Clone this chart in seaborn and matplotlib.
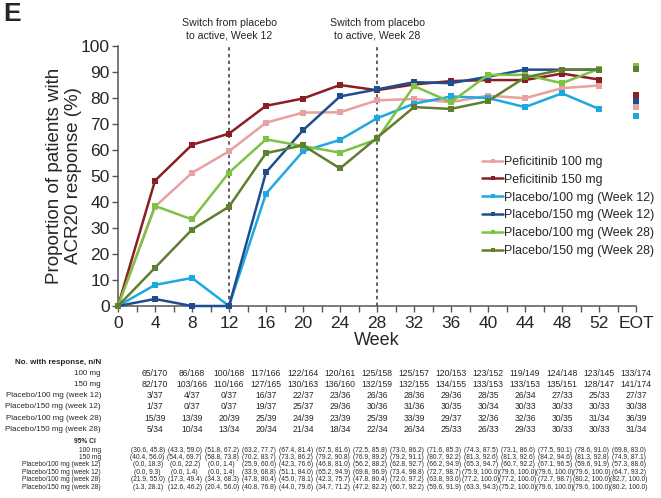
import matplotlib
matplotlib.use("Agg")
import matplotlib.pyplot as plt
import matplotlib.transforms as mtransforms
from matplotlib.lines import Line2D
import seaborn as sns
import pandas as pd

# ---------------- data ----------------
weeks = [0, 4, 8, 12, 16, 20, 24, 28, 32, 36, 40, 44, 48, 52]
eot_pos = 56
tick_labels = ["0", "4", "8", "12", "16", "20", "24", "28", "32", "36",
               "40", "44", "48", "52", "EOT"]

groups = ["Peficitinib 100 mg", "Peficitinib 150 mg",
          "Placebo/100 mg (Week 12)", "Placebo/150 mg (Week 12)",
          "Placebo/100 mg (Week 28)", "Placebo/150 mg (Week 28)"]

pef100 = [0, 38.2, 51.2, 59.5, 70.5, 74.4, 74.5, 79.1, 79.6, 78.4, 80.9, 79.9, 83.8, 84.8]
pef150 = [0, 48.2, 62.0, 66.3, 77.0, 79.8, 85.0, 83.0, 85.2, 86.5, 86.9, 86.9, 89.4, 87.1]
pbo100_w12 = [0, 8.1, 10.8, 0.0, 43.2, 59.5, 63.9, 72.2, 77.8, 80.6, 80.0, 76.5, 81.8, 75.8]
pbo150_w12 = [0, 2.7, 0.0, 0.0, 51.4, 67.6, 80.6, 83.3, 86.1, 85.7, 88.2, 90.9, 90.9, 90.9]
pbo100_w28 = [0, 38.5, 33.3, 51.3, 64.1, 61.5, 59.0, 64.1, 84.6, 78.4, 88.9, 88.9, 85.7, 91.2]
pbo150_w28 = [0, 14.7, 29.4, 38.2, 58.8, 61.8, 52.9, 64.7, 76.5, 75.8, 78.8, 87.9, 90.9, 90.9]

eot_values = [76.4, 81.0, 73.0, 78.9, 92.3, 91.2]

series = [pef100, pef150, pbo100_w12, pbo150_w12, pbo100_w28, pbo150_w28]

colors = ["#E8A0A0", "#8C1D24", "#1EA8E2", "#1F4E8F", "#7DC242", "#5F7F2E"]

row_labels = ["100 mg", "150 mg", "Placebo/100 mg (week 12)", "Placebo/150 mg (week 12)",
              "Placebo/100 mg (week 28)", "Placebo/150 mg (week 28)"]

n_resp = [
    ["65/170", "86/168", "100/168", "117/166", "122/164", "120/161", "125/158", "125/157",
     "120/153", "123/152", "119/149", "124/148", "123/145", "133/174"],
    ["82/170", "103/166", "110/166", "127/165", "130/163", "136/160", "132/159", "132/155",
     "134/155", "133/153", "133/153", "135/151", "128/147", "141/174"],
    ["3/37", "4/37", "0/37", "16/37", "22/37", "23/36", "26/36", "28/36", "29/36", "28/35",
     "26/34", "27/33", "25/33", "27/37"],
    ["1/37", "0/37", "0/37", "19/37", "25/37", "29/36", "30/36", "31/36", "30/35", "30/34",
     "30/33", "30/33", "30/33", "30/38"],
    ["15/39", "13/39", "20/39", "25/39", "24/39", "23/39", "25/39", "33/39", "29/37", "32/36",
     "32/36", "30/35", "31/34", "36/39"],
    ["5/34", "10/34", "13/34", "20/34", "21/34", "18/34", "22/34", "26/34", "25/33", "26/33",
     "29/33", "30/33", "30/33", "31/34"],
]

ci = [
    ["(30.6, 45.8)", "(43.3, 59.0)", "(51.8, 67.2)", "(63.2, 77.7)", "(67.4, 81.4)", "(67.5, 81.6)",
     "(72.5, 85.8)", "(73.0, 86.2)", "(71.6, 85.3)", "(74.3, 87.5)", "(73.1, 86.6)", "(77.5, 90.1)",
     "(78.6, 91.0)", "(69.8, 83.0)"],
    ["(40.4, 56.0)", "(54.4, 69.7)", "(58.8, 73.8)", "(70.2, 83.7)", "(73.3, 86.2)", "(79.2, 90.8)",
     "(76.9, 89.2)", "(79.2, 91.1)", "(80.7, 92.2)", "(81.3, 92.6)", "(81.3, 92.6)", "(84.2, 94.6)",
     "(81.3, 92.8)", "(74.9, 87.1)"],
    ["(0.0, 18.3)", "(0.0, 22.2)", "(0.0, 1.4)", "(25.9, 60.6)", "(42.3, 76.6)", "(46.8, 81.0)",
     "(56.2, 88.2)", "(62.8, 92.7)", "(66.2, 94.9)", "(65.3, 94.7)", "(60.7, 92.2)", "(67.1, 96.5)",
     "(59.6, 91.9)", "(57.3, 88.6)"],
    ["(0.0, 9.3)", "(0.0, 1.4)", "(0.0, 1.4)", "(33.9, 68.8)", "(51.1, 84.0)", "(65.2, 94.9)",
     "(69.8, 96.9)", "(73.4, 98.8)", "(72.7, 98.7)", "(75.9, 100.0)", "(79.6, 100.0)", "(79.6, 100.0)",
     "(79.6, 100.0)", "(64.7, 93.2)"],
    ["(21.9, 55.0)", "(17.3, 49.4)", "(34.3, 68.3)", "(47.8, 80.4)", "(45.0, 78.1)", "(42.3, 75.7)",
     "(47.8, 80.4)", "(72.0, 97.2)", "(63.8, 93.0)", "(77.2, 100.0)", "(77.2, 100.0)", "(72.7, 98.7)",
     "(80.2, 100.0)", "(82.7, 100.0)"],
    ["(1.3, 28.1)", "(12.6, 46.2)", "(20.4, 56.0)", "(40.8, 76.8)", "(44.0, 79.6)", "(34.7, 71.2)",
     "(47.2, 82.2)", "(60.7, 92.2)", "(59.6, 91.9)", "(63.3, 94.3)", "(75.2, 100.0)", "(79.6, 100.0)",
     "(79.6, 100.0)", "(80.2, 100.0)"],
]

table_cols = weeks[1:] + [eot_pos]

# ---------------- figure ----------------
sns.set_style("ticks")
plt.rcParams["font.family"] = ["Liberation Sans", "DejaVu Sans"]

W, H = 661, 498
fig = plt.figure(figsize=(W / 100, H / 100), dpi=100)
ax = fig.add_axes([118 / W, 1 - 306 / H, (636 - 118) / W, (306 - 46) / H])

rows = []
for g, vals in zip(groups, series):
    for wk, v in zip(weeks, vals):
        rows.append({"week": wk, "pct": v, "group": g})
df = pd.DataFrame(rows)
df_eot = pd.DataFrame({"week": [eot_pos] * len(groups), "pct": eot_values, "group": groups})
palette = dict(zip(groups, colors))

# dashed switch lines
for xs in (12, 28):
    ax.plot([xs, xs], [0, 100], color="#333333", linestyle=(0, (2.2, 2.2)), linewidth=1.1,
            zorder=1, clip_on=False)

sns.lineplot(data=df, x="week", y="pct", hue="group", hue_order=groups, palette=palette,
             marker="s", markersize=4.2, markeredgewidth=0, linewidth=1.8, ax=ax,
             legend=False, zorder=3)
sns.scatterplot(data=df_eot, x="week", y="pct", hue="group", hue_order=groups,
                palette=palette, marker="s", s=20, linewidth=0, ax=ax, legend=False, zorder=3)
for ln in ax.lines:
    ln.set_clip_on(False)
for c in ax.collections:
    c.set_clip_on(False)

ax.set_xlim(0, 56)
ax.set_ylim(0, 100)
ax.set_xticks(weeks + [eot_pos])
ax.set_xticklabels(tick_labels)
ax.set_xticks(list(range(2, 56, 4)), minor=True)
ax.set_yticks(range(0, 101, 10))
ax.tick_params(axis="both", which="major", labelsize=12.5, length=4, width=1, color="#555555",
               pad=3)
ax.tick_params(axis="y", which="major", pad=2)
ax.tick_params(axis="x", which="minor", length=4, width=1, color="#555555")
for s in ("top", "right"):
    ax.spines[s].set_visible(False)
for s in ("left", "bottom"):
    ax.spines[s].set_color("#555555")
    ax.spines[s].set_linewidth(1.1)

ax.set_xlabel("Week", fontsize=13, labelpad=1)
ax.set_ylabel("Proportion of patients with\nACR20 response (%)", fontsize=13.5,
              labelpad=-1, linespacing=1.15)

# annotations
for xs, wk in ((12, "12"), (28, "28")):
    ax.annotate(f"Switch from placebo\nto active, Week {wk}", xy=(xs, 0),
                xycoords=("data", "figure fraction"), xytext=(xs, 1 - 29 / H),
                textcoords=("data", "figure fraction"), ha="center", va="center",
                fontsize=7.6, linespacing=1.25)

fig.text(3 / W, 1 - 14 / H, "E", fontsize=19, fontweight="bold", va="center", ha="left")

# legend
handles = [Line2D([0], [0], color=c, marker="s", markersize=3, markeredgewidth=0, linewidth=1.8)
           for c in colors]
ax.legend(handles, groups, loc="upper left", bbox_to_anchor=(482 / W, 1 - 156 / H),
          bbox_transform=fig.transFigure, frameon=False, fontsize=8.9, handlelength=1.7,
          handletextpad=0.05, labelspacing=0.47, borderaxespad=0, borderpad=0)

# tables
trans = mtransforms.blended_transform_factory(ax.transData, fig.transFigure)
fs_n = 5.8
fig.text(101 / W, 1 - 362 / H, "No. with response, n/N", fontsize=fs_n, fontweight="bold",
         ha="right", va="center")
for i, (lab, vals) in enumerate(zip(row_labels, n_resp)):
    y = 1 - (373 + i * 11.3) / H
    fig.text(101 / W, y, lab, fontsize=fs_n, ha="right", va="center")
    for xc, v in zip(table_cols, vals):
        ax.text(xc, y, v, fontsize=fs_n + 0.4, ha="center", va="center", transform=trans)

fs_ci = 4.8
fig.text(96 / W, 1 - 441 / H, "95% CI", fontsize=fs_ci, fontweight="bold", ha="right",
         va="center")
for i, (lab, vals) in enumerate(zip(row_labels, ci)):
    y = 1 - (450 + i * 7.4) / H
    fig.text(101 / W, y, lab, fontsize=fs_ci, ha="right", va="center")
    for xc, v in zip(table_cols, vals):
        ax.text(xc - 0.8, y, v, fontsize=fs_ci, ha="center", va="center", transform=trans)

fig.savefig("out.png", dpi=100)
